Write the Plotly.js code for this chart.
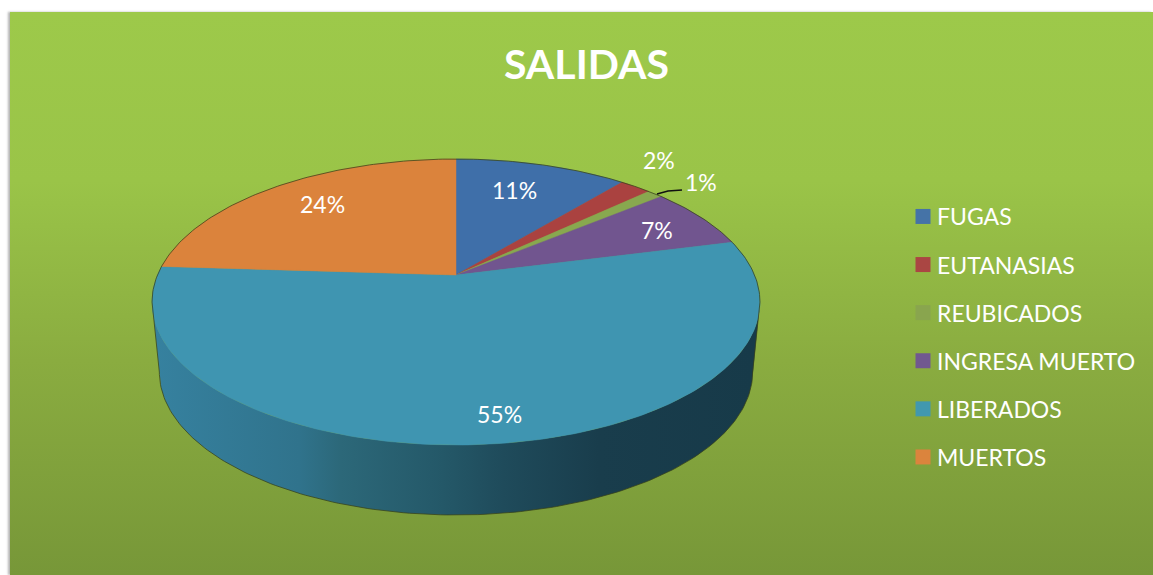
<!DOCTYPE html>
<html>
<head>
<meta charset="utf-8">
<script src="https://cdn.plot.ly/plotly-3.0.1.min.js"></script>
<style>
html,body{margin:0;padding:0;background:#fff;overflow:hidden}
#panel{position:absolute;left:10px;top:12px;width:1143px;height:563px;
  background:linear-gradient(180deg,#9dc94a 0%,#9ac448 30%,#8aac40 62%,#779738 100%);
  box-shadow:-2px 0 2px rgba(120,120,120,.55)}
#chart{position:absolute;left:0;top:0;width:1153px;height:575px}
</style>
</head>
<body>
<div id="panel"></div>
<div id="chart"></div>
<script>
// ---- chart data ----
const categories = ['FUGAS','EUTANASIAS','REUBICADOS','INGRESA MUERTO','LIBERADOS','MUERTOS'];
const shares = [11, 2, 1, 7, 55, 24];
const sliceColors = ['#3f6fa9','#aa4240','#88a84f','#71558f','#3f95b1','#db833c'];
const swatchColors = ['#4573a7','#aa4643','#89a54e','#71588f','#4198af','#db843d'];
const chartTitle = 'SALIDAS';

// ---- perspective of the tilted disc, in the pixel-scaled axes ----
const CX = 456, CY = 275, A = 298.5, K = 137.9, P = 0.1888, DEPTH = 70, SHRINK = 0.976;
const total = shares.reduce((s, v) => s + v, 0);
function rim(deg, shrink, dy) {
  const t = deg * Math.PI / 180, u = Math.sin(t), v = -Math.cos(t), w = 1 - P * v;
  return [CX + shrink * A * u / w, CY + dy + K * v / w];
}
function arc(from, to, shrink, dy) {
  const pts = [], n = Math.max(2, Math.ceil(Math.abs(to - from)));
  for (let i = 0; i <= n; i++) pts.push(rim(from + (to - from) * i / n, shrink, dy));
  return pts;
}
const xs = p => p.map(q => q[0]), ys = p => p.map(q => q[1]);
const SIDE_R = 100.9, SIDE_L = 259.1;

const traces = [];

// side wall, shaded from left to right
const wall = arc(SIDE_R, SIDE_L, 1, 0).concat(arc(SIDE_L, SIDE_R, SHRINK, DEPTH));
traces.push({
  type: 'scatter', mode: 'lines', x: xs(wall).concat(wall[0][0]), y: ys(wall).concat(wall[0][1]),
  fill: 'toself', line: {width: 0}, hoverinfo: 'skip', showlegend: false,
  fillgradient: {type: 'horizontal', start: 155, stop: 755, colorscale: [
    [0, '#36819f'], [0.24, '#30738c'], [0.31, '#2c6879'], [0.48, '#245868'],
    [0.58, '#1f4b5b'], [0.74, '#193d4c'], [1, '#173a49']]}
});

// top slices, one per category
let acc = 0;
shares.forEach((val, i) => {
  const a0 = acc / total * 360, a1 = (acc + val) / total * 360;
  acc += val;
  const pts = [[CX, CY]].concat(arc(a0, a1, 1, 0), [[CX, CY]]);
  traces.push({
    type: 'scatter', mode: 'lines', x: xs(pts), y: ys(pts), fill: 'toself',
    fillcolor: sliceColors[i], line: {color: sliceColors[i], width: 0.5},
    name: categories[i], showlegend: false, hoverinfo: 'name'
  });
});

// thin outer contour
const contour = arc(SIDE_L - 360, SIDE_R, 1, 0).concat(arc(SIDE_R, SIDE_L, SHRINK, DEPTH), [rim(SIDE_L, 1, 0)]);
traces.push({
  type: 'scatter', mode: 'lines', x: xs(contour), y: ys(contour),
  line: {color: 'rgba(55,65,25,0.75)', width: 1}, hoverinfo: 'skip', showlegend: false
});

// legend entries
categories.forEach((c, i) => traces.push({
  type: 'scatter', mode: 'markers', x: [null], y: [null], name: c, legendgroup: c,
  marker: {symbol: 'square', size: 15, color: swatchColors[i]}
}));

// percent labels
const labelAnchors = [[514,190],[659,160],[701,182],[657,230],[499,414],[322,204]];
const annotations = shares.map((v, i) => ({
  x: labelAnchors[i][0], y: labelAnchors[i][1], xref: 'x', yref: 'y', text: v + '%',
  showarrow: false, xanchor: 'center', yanchor: 'middle',
  font: {family: 'Lato, Carlito, sans-serif', size: 23, color: '#fff'}
}));

const layout = {
  width: 1153, height: 575, margin: {l: 0, r: 0, t: 0, b: 0, pad: 0},
  paper_bgcolor: 'rgba(0,0,0,0)', plot_bgcolor: 'rgba(0,0,0,0)',
  font: {family: 'Lato, Carlito, sans-serif', color: '#fff'},
  title: {text: '<b>' + chartTitle + '</b>', x: 586.5 / 1153, xanchor: 'center',
    y: 1 - 65 / 575, yanchor: 'middle', font: {family: 'Lato, Carlito, sans-serif', size: 41, color: '#fff'}},
  xaxis: {range: [0, 1153], visible: false, fixedrange: true},
  yaxis: {range: [575, 0], visible: false, fixedrange: true},
  showlegend: true,
  legend: {x: 897 / 1153, xanchor: 'left', y: 1 - 195 / 575, yanchor: 'top',
    bgcolor: 'rgba(0,0,0,0)', borderwidth: 0, tracegroupgap: 15.2, traceorder: 'grouped',
    font: {family: 'Lato, Carlito, sans-serif', size: 23, color: '#fff'}},
  annotations: annotations,
  shapes: [{type: 'path', xref: 'x', yref: 'y', path: 'M657,194 L668,191 L682,190',
    line: {color: '#111', width: 1.5}}]
};
Plotly.newPlot('chart', traces, layout, {displayModeBar: false, responsive: false}).then(() => {
  // the reference keeps its swatches closer to the legend text
  document.querySelectorAll('#chart .legendpoints').forEach(g => g.setAttribute('transform', 'translate(6,0)'));
});
</script>
</body>
</html>
